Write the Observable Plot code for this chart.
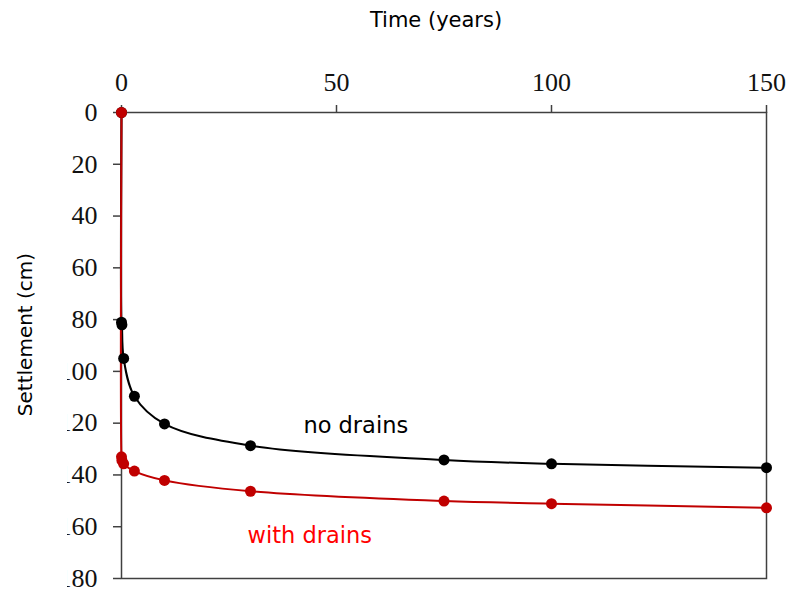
<!DOCTYPE html>
<html>
<head>
<meta charset="utf-8">
<script src="https://cdn.jsdelivr.net/npm/d3@7"></script>
<script src="https://cdn.jsdelivr.net/npm/@observablehq/plot@0.6"></script>
<style>
  html, body { margin: 0; padding: 0; background: #fff; }
  #chart svg g[aria-label="x-axis tick label"],
  #chart svg g[aria-label="y-axis tick label"],
  #chart svg g[aria-label="x-axis tick label"] text,
  #chart svg g[aria-label="y-axis tick label"] text {
    font-family: "Liberation Serif", "Times New Roman", serif !important;
    font-size: 26px !important;
  }
</style>
</head>
<body>
<div id="chart"></div>
<script>
// Time (years) and settlement (cm)
const timeNoDrains = [0, 0, 0.1, 0.5, 3, 10, 30, 75, 100, 150];
const settleNoDrains = [0, 81, 82, 95, 109.6, 120.3, 128.7, 134.2, 135.7, 137.2];
const timeWithDrains = [0, 0, 0.1, 0.5, 3, 10, 30, 75, 100, 150];
const settleWithDrains = [0, 133, 134.4, 135.7, 138.5, 142.1, 146.3, 150.1, 151.1, 152.7];

const xTicks = [0, 50, 100, 150];
const yTicks = [0, 20, 40, 60, 80, 100, 120, 140, 160, 180];

const seriesLabels = ["no drains", "with drains"];
const labelX = [42.3, 29.3];
const labelY = [121, 163.4];

const xTitle = "Time (years)";
const yTitle = "Settlement (cm)";

const noDrains = timeNoDrains.map((t, i) => ({t, s: settleNoDrains[i]}));
const withDrains = timeWithDrains.map((t, i) => ({t, s: settleWithDrains[i]}));
const labels = seriesLabels.map((text, i) => ({text, t: labelX[i], s: labelY[i]}));

const axisColor = "#404040";
const darkRed = "#c00000";

const chart = Plot.plot({
  width: 790,
  height: 590,
  marginTop: 112,
  marginLeft: 121,
  marginRight: 24,
  marginBottom: 12,
  x: {domain: [0, 150]},
  y: {domain: [0, 180], reverse: true},
  marks: [
    Plot.axisX(xTicks, {
      anchor: "top", label: null, tickSize: 8, tickPadding: 14,
      fontFamily: "Liberation Serif", fontSize: 26, fill: "#111",
      stroke: axisColor, strokeWidth: 1.5
    }),
    Plot.axisY(yTicks, {
      anchor: "left", label: null, tickSize: 8, tickPadding: 16,
      fontFamily: "Liberation Serif", fontSize: 26, fill: "#111",
      stroke: axisColor, strokeWidth: 1.5
    }),
    Plot.frame({stroke: axisColor, strokeWidth: 1.5}),
    Plot.line(noDrains, {x: "t", y: "s", curve: "catmull-rom", stroke: "#000", strokeWidth: 2}),
    Plot.line(withDrains, {x: "t", y: "s", curve: "catmull-rom", stroke: darkRed, strokeWidth: 2}),
    Plot.dot(noDrains, {x: "t", y: "s", r: 5.5, fill: "#000", stroke: "none"}),
    Plot.dot(withDrains, {x: "t", y: "s", r: 5.5, fill: darkRed, stroke: "none"}),
    Plot.text(labels, {
      x: "t", y: "s", text: "text", textAnchor: "start",
      fill: (d, i) => i === 0 ? "#000" : "#ff0000",
      fontFamily: "DejaVu Sans", fontSize: 22.5
    }),
    Plot.text([xTitle], {
      frameAnchor: "top", dy: -92, dx: -8, lineAnchor: "middle", textAnchor: "middle",
      fontFamily: "DejaVu Sans", fontSize: 21, fill: "#000"
    }),
    Plot.text([yTitle], {
      frameAnchor: "left", rotate: -90, dx: -96, dy: -11, lineAnchor: "middle", textAnchor: "middle",
      fontFamily: "DejaVu Sans", fontSize: 20, fill: "#000"
    })
  ]
});

document.getElementById("chart").appendChild(chart);

const ns = "http://www.w3.org/2000/svg";
const svg = chart.tagName.toLowerCase() === "svg" ? chart : chart.querySelector("svg");

// Force the serif tick-label font on each text element
svg.querySelectorAll('[aria-label="x-axis tick label"] text, [aria-label="y-axis tick label"] text').forEach(t => {
  t.setAttribute("font-family", "Liberation Serif");
  t.setAttribute("font-size", "26");
});

// Clip the y tick labels on the left, as in the reference image
const yLabelGroup = svg.querySelector('[aria-label="y-axis tick label"]');
if (yLabelGroup) {
  let defs = svg.querySelector("defs");
  if (!defs) { defs = document.createElementNS(ns, "defs"); svg.insertBefore(defs, svg.firstChild); }
  const cp = document.createElementNS(ns, "clipPath");
  cp.setAttribute("id", "ylabelclip");
  cp.setAttribute("clipPathUnits", "userSpaceOnUse");
  const r = document.createElementNS(ns, "rect");
  r.setAttribute("x", 67); r.setAttribute("y", 0);
  r.setAttribute("width", 790); r.setAttribute("height", 590);
  cp.appendChild(r);
  defs.appendChild(cp);
  const wrap = document.createElementNS(ns, "g");
  wrap.setAttribute("clip-path", "url(#ylabelclip)");
  yLabelGroup.parentNode.insertBefore(wrap, yLabelGroup);
  wrap.appendChild(yLabelGroup);
}
</script>
</body>
</html>
